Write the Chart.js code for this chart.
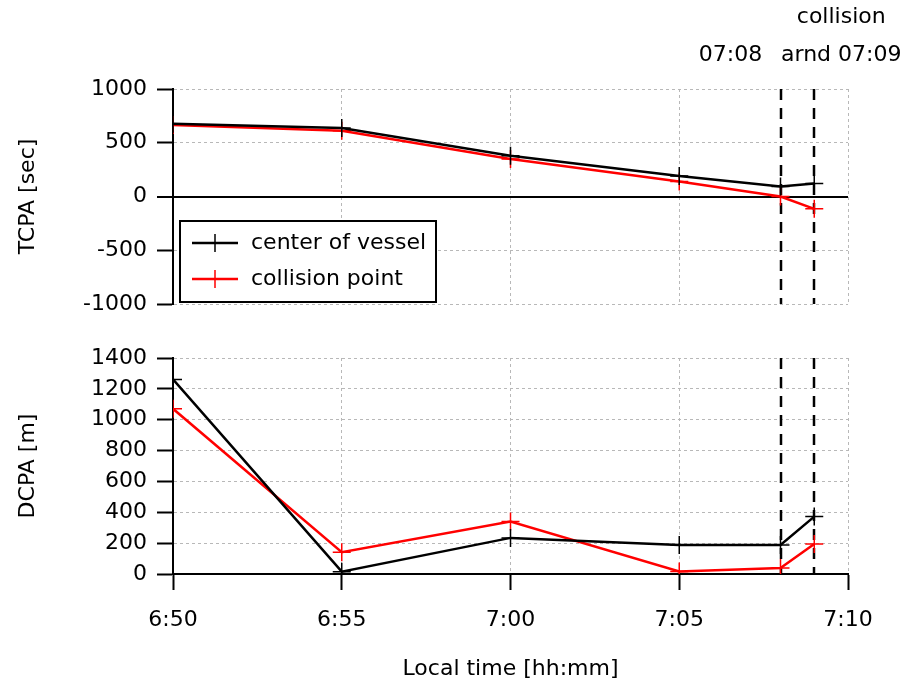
<!DOCTYPE html>
<html>
<head>
<meta charset="utf-8">
<title>TCPA / DCPA</title>
<script src="https://cdn.jsdelivr.net/npm/chart.js@4.4.1/dist/chart.umd.min.js"></script>
<style>
  body { margin: 0; background: #fff; }
  #wrap { position: relative; width: 908px; height: 684px; }
  #wrap canvas { position: absolute; left: 0; top: 0; }
</style>
</head>
<body>
<div id="wrap">
  <canvas id="tcpaChart" width="908" height="684"></canvas>
  <canvas id="dcpaChart" width="908" height="684"></canvas>
</div>
<script>
// sample times in minutes after midnight (6:50 = 410)
const sampleTimes = [410, 415, 420, 425, 428, 429];
const tcpaCenter = [677, 637, 379, 190, 93, 121];
const tcpaCollision = [665, 612, 348, 140, 0, -115];
const dcpaCenter = [1261, 15, 234, 188, 188, 372];
const dcpaCollision = [1071, 141, 340, 17, 39, 195];

const seriesNames = ['center of vessel', 'collision point'];
const seriesColors = ['#000000', '#ff0000'];

// marked moments: 07:08 and the collision around 07:09
const eventTimes = [428, 429];
const eventNotes = [['07:08'], ['collision', 'arnd 07:09']];

const timeRange = [410, 430];
const timeStep = 5;
const tcpaRange = [-1000, 1000];
const tcpaStep = 500;
const dcpaRange = [0, 1400];
const dcpaStep = 200;

const FONT = 'DejaVu Sans';
const FONT_SIZE = 22;
Chart.defaults.font.family = FONT;
Chart.defaults.font.size = FONT_SIZE;
Chart.defaults.color = '#000';

function toPoints(values) {
  return sampleTimes.map((t, i) => ({ x: t, y: values[i] }));
}

function fmtTime(m) {
  const h = Math.floor(m / 60);
  return h + ':' + String(m % 60).padStart(2, '0');
}

function seriesDataset(idx, values) {
  const color = seriesColors[idx];
  return {
    label: seriesNames[idx],
    data: toPoints(values),
    borderColor: color,
    backgroundColor: color,
    borderWidth: 2.5,
    pointStyle: 'cross',
    pointRadius: 9,
    pointBorderWidth: 1.5,
    pointBorderColor: color,
    tension: 0,
    fill: false,
  };
}

const GRID = '#b8b8b8';

const eventLines = {
  id: 'eventLines',
  beforeDatasetsDraw(chart) {
    const { ctx, chartArea, scales } = chart;
    ctx.save();
    ctx.strokeStyle = '#000';
    ctx.lineWidth = 2.5;
    ctx.setLineDash([11, 8]);
    eventTimes.forEach((t) => {
      const px = Math.round(scales.x.getPixelForValue(t));
      ctx.beginPath();
      ctx.moveTo(px, chartArea.top);
      ctx.lineTo(px, chartArea.bottom);
      ctx.stroke();
    });
    ctx.restore();
  },
};

// legend box inside the upper panel + the notes above it
const boxLegend = {
  id: 'boxLegend',
  afterDraw(chart) {
    const { ctx, scales } = chart;
    const font = FONT_SIZE + 'px "' + FONT + '"';
    ctx.save();
    ctx.fillStyle = '#fff';
    ctx.strokeStyle = '#000';
    ctx.lineWidth = 2;
    ctx.fillRect(180, 221, 256, 81);
    ctx.strokeRect(180, 221, 256, 81);
    chart.data.datasets.forEach((ds, i) => {
      const y = 243 + i * 36;
      ctx.strokeStyle = ds.borderColor;
      ctx.lineWidth = 2.5;
      ctx.beginPath();
      ctx.moveTo(192, y);
      ctx.lineTo(238, y);
      ctx.stroke();
      ctx.lineWidth = 1.5;
      ctx.beginPath();
      ctx.moveTo(215, y - 9);
      ctx.lineTo(215, y + 9);
      ctx.moveTo(206, y);
      ctx.lineTo(224, y);
      ctx.stroke();
      ctx.fillStyle = '#000';
      ctx.font = font;
      ctx.textBaseline = 'middle';
      ctx.textAlign = 'left';
      ctx.fillText(ds.label, 251, y);
    });

    const offsets = [-50, 27];
    ctx.fillStyle = '#000';
    ctx.font = font;
    ctx.textAlign = 'center';
    ctx.textBaseline = 'middle';
    eventTimes.forEach((t, i) => {
      const px = scales.x.getPixelForValue(t) + offsets[i];
      const lines = eventNotes[i];
      lines.forEach((line, j) => {
        ctx.fillText(line, px, 55 - (lines.length - 1 - j) * 38);
      });
    });
    ctx.restore();
  },
};

function xScale(showLabels) {
  return {
    type: 'linear',
    min: timeRange[0],
    max: timeRange[1],
    afterFit(scale) { scale.height = showLabels ? 110 : 0; },
    ticks: {
      display: showLabels,
      stepSize: timeStep,
      padding: 17,
      maxRotation: 0,
      callback: (v) => fmtTime(v),
    },
    grid: {
      color: GRID,
      lineWidth: 1,
      drawTicks: showLabels,
      tickLength: 16,
      tickColor: '#000',
      tickWidth: 2,
    },
    border: { display: showLabels, color: '#000', width: 2, dash: [3, 3] },
    title: {
      display: showLabels,
      text: 'Local time [hh:mm]',
      padding: { top: 0, bottom: 2 },
    },
  };
}

function yScale(range, step, title, zeroLine) {
  const isZero = (c) => zeroLine && c.tick && c.tick.value === 0;
  return {
    min: range[0],
    max: range[1],
    afterFit(scale) { scale.width = 173; },
    ticks: { stepSize: step, padding: 10, callback: (v) => String(v) },
    grid: {
      color: (c) => (isZero(c) ? '#000' : GRID),
      lineWidth: (c) => (isZero(c) ? 2 : 1),
      tickLength: 16,
      tickColor: '#000',
      tickWidth: 2,
    },
    border: {
      color: '#000',
      width: 2,
      dash: (c) => (isZero(c) ? [] : [3, 3]),
    },
    title: { display: true, text: title, padding: { top: 15, bottom: 0 } },
  };
}

function baseOptions(padding, scales) {
  return {
    responsive: false,
    animation: false,
    events: [],
    layout: { padding },
    scales,
    plugins: { legend: { display: false }, tooltip: { enabled: false } },
  };
}

new Chart(document.getElementById('tcpaChart'), {
  type: 'line',
  data: { datasets: [seriesDataset(0, tcpaCenter), seriesDataset(1, tcpaCollision)] },
  options: baseOptions(
    { top: 89, right: 60, bottom: 380, left: 0 },
    { x: xScale(false), y: yScale(tcpaRange, tcpaStep, 'TCPA [sec]', true) }
  ),
  plugins: [eventLines, boxLegend],
});

new Chart(document.getElementById('dcpaChart'), {
  type: 'line',
  data: { datasets: [seriesDataset(0, dcpaCenter), seriesDataset(1, dcpaCollision)] },
  options: baseOptions(
    { top: 358, right: 60, bottom: 0, left: 0 },
    { x: xScale(true), y: yScale(dcpaRange, dcpaStep, 'DCPA [m]', false) }
  ),
  plugins: [eventLines],
});
</script>
</body>
</html>
